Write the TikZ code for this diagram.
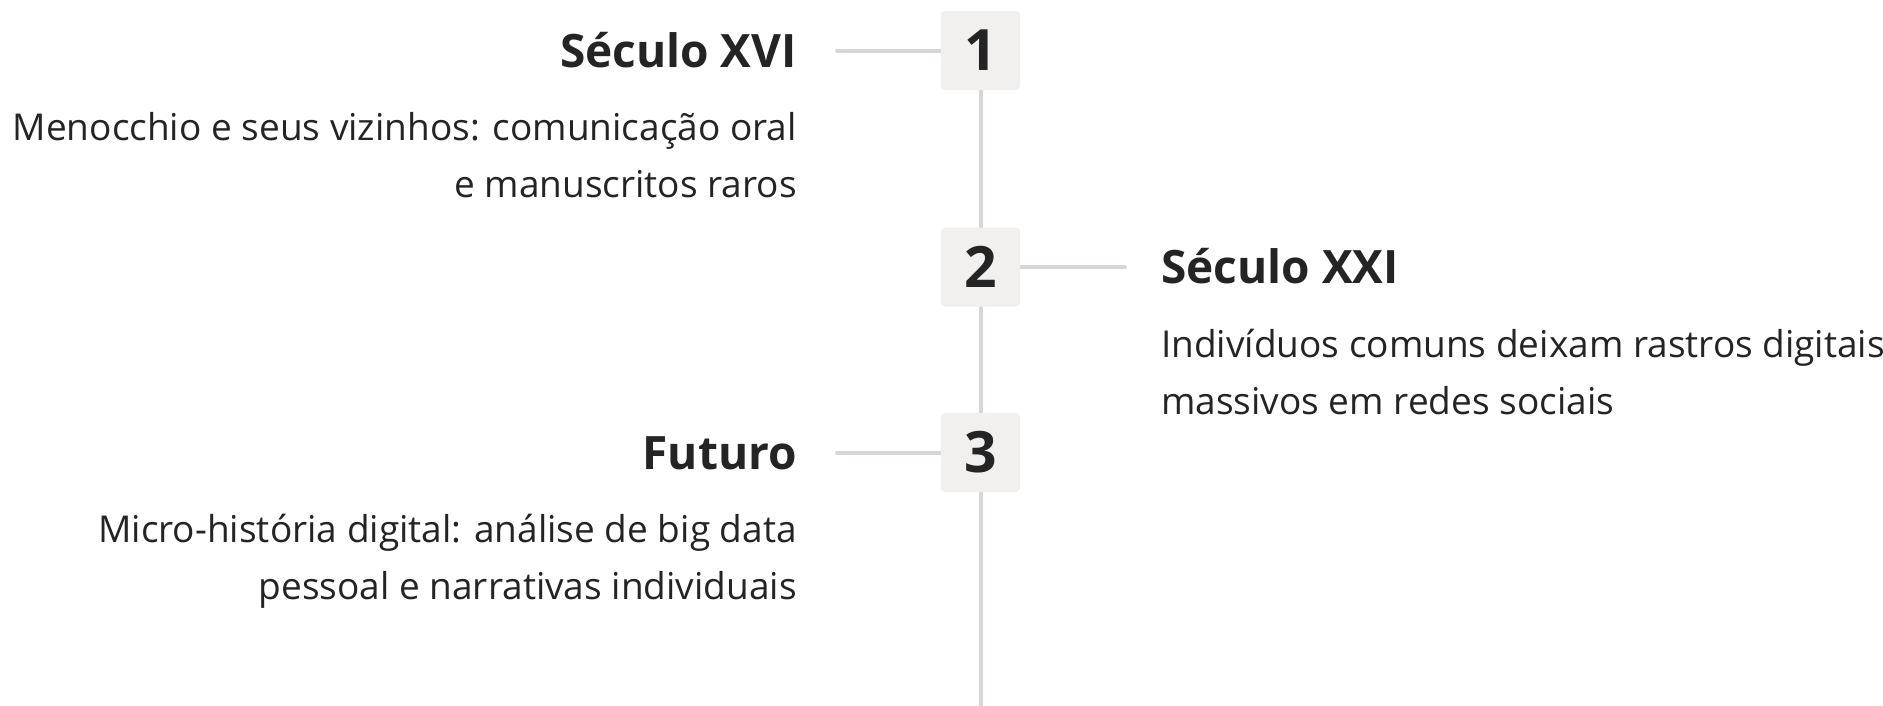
\documentclass[tikz,border=0pt]{standalone}
\usepackage{fontspec}
\setmainfont{Open Sans}
\usetikzlibrary{backgrounds}
\definecolor{ink}{HTML}{242424}
\definecolor{boxfill}{HTML}{F2EFEF}
\definecolor{rulegray}{HTML}{D9D5D5}
\tikzset{
  numbox/.style={fill=boxfill, rounded corners=4pt, minimum width=79pt, minimum height=79pt,
    inner sep=0pt, text=ink, font=\fontsize{57}{57}\selectfont\bfseries},
  titletext/.style={inner sep=0pt, text=ink, font=\fontsize{46}{46}\selectfont\bfseries},
  bodytext/.style={inner sep=0pt, text=ink, font=\fontsize{37}{37}\selectfont},
  link/.style={draw=rulegray, line width=4pt, line cap=round},
  spine/.style={draw=rulegray, line width=4pt},
}
\begin{document}
\begin{tikzpicture}
\useasboundingbox (0pt,0pt) rectangle (1883pt,-705pt);

\node[numbox] (n1) at (980.5pt,-50.5pt) {1};
\node[numbox] (n2) at (980.5pt,-267pt) {2};
\node[numbox] (n3) at (980.5pt,-452.5pt) {3};

\coordinate (h1) at (837pt,-50.5pt);
\coordinate (h2) at (1125pt,-267pt);
\coordinate (h3) at (837pt,-452.5pt);
\coordinate (bottom) at (980.5pt,-706pt);

\node[titletext, anchor=base east] (t1) at (797pt,-67pt) {Século XVI};
\node[bodytext, anchor=base east] (b1a) at (797pt,-140pt) {Menocchio e seus vizinhos: comunicação oral};
\node[bodytext, anchor=base east] (b1b) at (797pt,-197pt) {e manuscritos raros};

\node[titletext, anchor=base west] (t2) at (1161pt,-283pt) {Século XXI};
\node[bodytext, anchor=base west] (b2a) at (1161pt,-357pt) {Indivíduos comuns deixam rastros digitais};
\node[bodytext, anchor=base west] (b2b) at (1161pt,-414pt) {massivos em redes sociais};

\node[titletext, anchor=base east] (t3) at (797pt,-469pt) {Futuro};
\node[bodytext, anchor=base east] (b3a) at (797pt,-542pt) {Micro-história digital: análise de big data};
\node[bodytext, anchor=base east] (b3b) at (797pt,-599pt) {pessoal e narrativas individuais};

\begin{pgfonlayer}{background}
  \fill[white] (0pt,0pt) rectangle (1883pt,-705pt);
  \draw[spine] (n1.center) -- (bottom);
  \draw[link] (h1) -- (n1.west);
  \draw[link] (n2.east) -- (h2);
  \draw[link] (h3) -- (n3.west);
\end{pgfonlayer}
\end{tikzpicture}
\end{document}
